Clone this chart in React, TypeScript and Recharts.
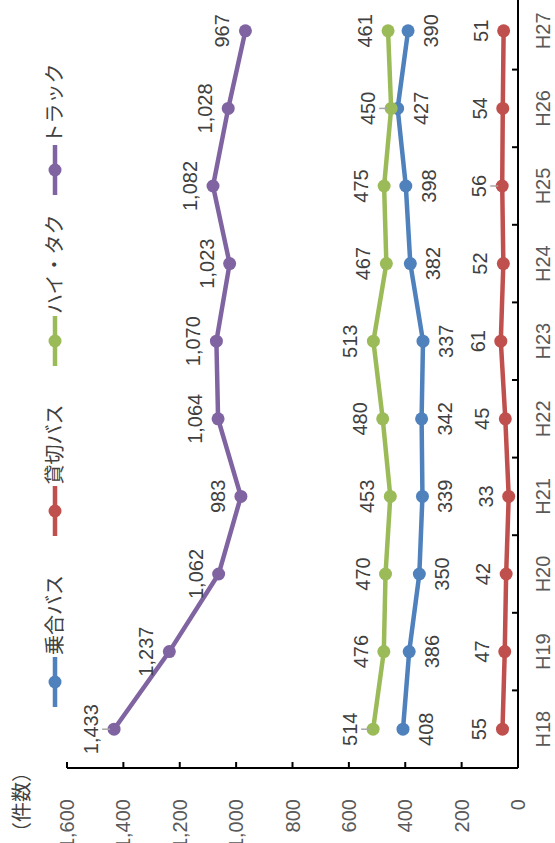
import React from 'react';
import { LineChart, Line, XAxis, YAxis, Legend, LabelList } from 'recharts';

// 年度
const years = ['H18', 'H19', 'H20', 'H21', 'H22', 'H23', 'H24', 'H25', 'H26', 'H27'];
// 件数
const noriai = [408, 386, 350, 339, 342, 337, 382, 398, 427, 390];
const kashikiri = [55, 47, 42, 33, 45, 61, 52, 56, 54, 51];
const haitaku = [514, 476, 470, 453, 480, 513, 467, 475, 450, 461];
const truck = [1433, 1237, 1062, 983, 1064, 1070, 1023, 1082, 1028, 967];
const valueTicks = [0, 200, 400, 600, 800, 1000, 1200, 1400, 1600];

const FONT = '"Liberation Sans", Arial, "Noto Sans CJK JP", sans-serif';
const TEXT = '#404040';
const CHART_W = 860;
const CHART_H = 555;
const PLOT_W = 776;
const HALF_BAND = PLOT_W / years.length / 2;

const seriesList = [
  { key: 'noriai', name: '乗合バス', color: '#4F81BD', below: true, leaders: [] as number[] },
  { key: 'kashikiri', name: '貸切バス', color: '#C0504D', below: false, leaders: [7] },
  { key: 'haitaku', name: 'ハイ・タク', color: '#9BBB59', below: false, leaders: [0, 8] },
  { key: 'truck', name: 'トラック', color: '#8064A2', below: false, leaders: [0] },
];

const data = years.map((year, i) => ({
  year,
  noriai: noriai[i],
  kashikiri: kashikiri[i],
  haitaku: haitaku[i],
  truck: truck[i],
}));

const fmt = (v: number) => Number(v).toLocaleString('en-US');

const ValueTick = (props: any) => {
  const { x, y, payload } = props;
  return (
    <g>
      <line x1={x} x2={x + 6} y1={y} y2={y} stroke='#000' strokeWidth={2} />
      <text x={x - 31} y={y} dy='0.35em' textAnchor='end' fontSize={20} fontFamily={FONT} fill='#595959'>
        {fmt(payload.value)}
      </text>
    </g>
  );
};

const CategoryTick = (props: any) => {
  const { x, y, payload } = props;
  const axisY = y - 18;
  return (
    <g>
      <line x1={x - HALF_BAND} x2={x - HALF_BAND} y1={axisY} y2={axisY - 6} stroke='#000' strokeWidth={2} />
      <text x={x} y={y} dy='0.71em' textAnchor='middle' fontSize={20} fontFamily={FONT} fill='#595959'>
        {payload.value}
      </text>
    </g>
  );
};

const makeLabel = (below: boolean, leaders: number[]) => (props: any) => {
  const { x, y, value, index } = props;
  return (
    <g>
      {leaders.includes(index) && (
        <line x1={x} x2={x} y1={y - 4} y2={y - 12} stroke='#A6A6A6' strokeWidth={1.5} />
      )}
      <text
        x={x}
        y={below ? y + 30 : y - 16}
        textAnchor='middle'
        fontSize={20}
        fontFamily={FONT}
        fill={TEXT}
      >
        {fmt(value)}
      </text>
    </g>
  );
};

const renderLegend = () => (
  <div style={{ position: 'relative', width: CHART_W, height: 20, fontFamily: FONT, fontSize: 20, color: TEXT }}>
    {seriesList.map((s, i) => (
      <div
        key={s.key}
        style={{
          position: 'absolute',
          left: 161 + i * 170.5 - 25,
          top: 0,
          height: 20,
          display: 'flex',
          alignItems: 'center',
          whiteSpace: 'nowrap',
        }}
      >
        <svg width={50} height={20}>
          <line x1={0} x2={50} y1={10} y2={10} stroke={s.color} strokeWidth={4.5} />
          <circle cx={25} cy={10} r={6.5} fill={s.color} />
        </svg>
        <span style={{ marginLeft: 2, lineHeight: '20px' }}>{s.name}</span>
      </div>
    ))}
  </div>
);

const App: React.FC = () => {
  return (
    <div>
      <style>{'body{margin:0;overflow:hidden;}'}</style>
      <div
        style={{
          position: 'absolute',
          top: 0,
          left: 0,
          width: CHART_W,
          height: CHART_H,
          transformOrigin: '0 0',
          transform: 'translateY(843px) rotate(-90deg)',
        }}
      >
        <LineChart width={CHART_W} height={CHART_H} data={data} margin={{ top: 67, right: 9, bottom: 0, left: 0 }}>
          <XAxis
            dataKey='year'
            height={37}
            interval={0}
            padding={{ left: HALF_BAND, right: HALF_BAND }}
            tickSize={0}
            tickMargin={18}
            tickLine={false}
            axisLine={{ stroke: '#000', strokeWidth: 2 }}
            tick={<CategoryTick />}
          />
          <YAxis
            type='number'
            domain={[0, 1600]}
            ticks={valueTicks}
            interval={0}
            width={75}
            tickSize={0}
            tickMargin={0}
            tickLine={false}
            axisLine={{ stroke: '#000', strokeWidth: 2 }}
            tick={<ValueTick />}
            label={{
              content: () => (
                <text x={41} y={22} dy='0.35em' textAnchor='middle' fontSize={20} fontFamily={FONT} fill={TEXT}>
                  （件数）
                </text>
              ),
            }}
          />
          <Legend
            layout='horizontal'
            align='center'
            verticalAlign='middle'
            content={renderLegend}
            wrapperStyle={{ top: 45, left: 0, width: CHART_W, margin: 0, padding: 0 }}
          />
          {seriesList.map((s) => (
            <Line
              key={s.key}
              type='linear'
              dataKey={s.key}
              name={s.name}
              stroke={s.color}
              strokeWidth={4.5}
              dot={{ r: 6.5, fill: s.color, stroke: s.color, strokeWidth: 0 }}
              activeDot={false}
              isAnimationActive={false}
            >
              <LabelList dataKey={s.key} content={makeLabel(s.below, s.leaders)} />
            </Line>
          ))}
        </LineChart>
      </div>
    </div>
  );
};

export default App;
